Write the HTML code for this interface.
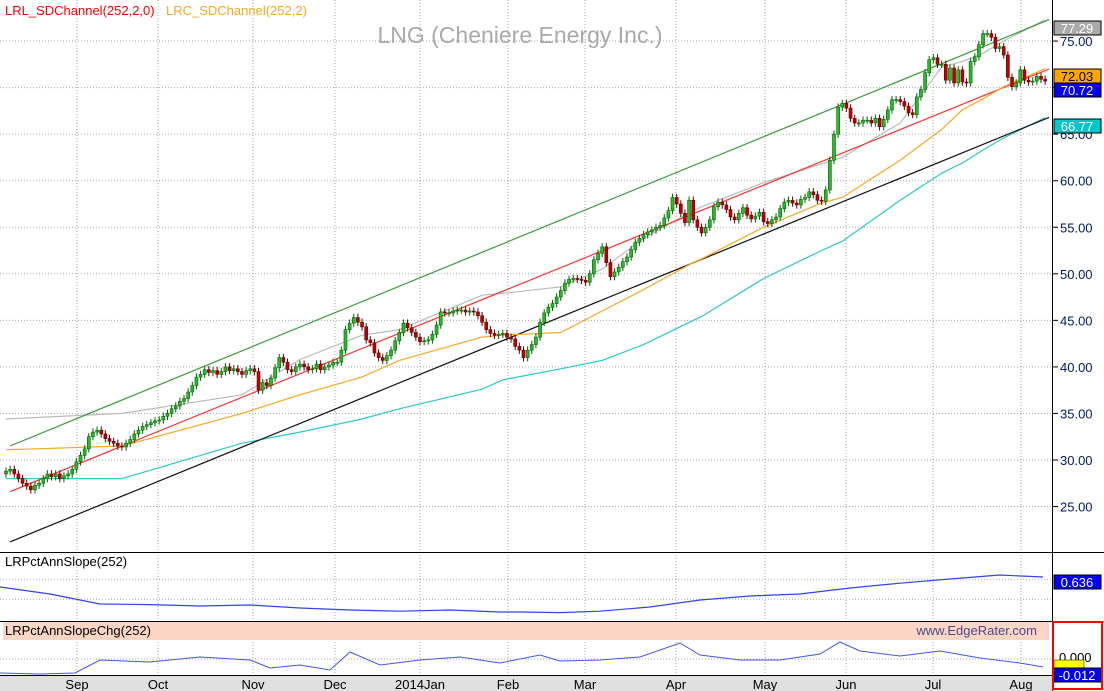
<!DOCTYPE html>
<html><head><meta charset="utf-8">
<style>
html,body{margin:0;padding:0;background:#fff;}
svg{display:block;font-family:"Liberation Sans",sans-serif;}
</style></head>
<body>
<svg id="chart" width="1104" height="691" viewBox="0 0 1104 691">
<rect x="0" y="0" width="1104" height="691" fill="#fff"/>
<g id="grid"></g>
<g id="overlays"></g>
<g id="candles"></g>
<text x="520" y="43" font-size="23" fill="#aaa" text-anchor="middle">LNG (Cheniere Energy Inc.)</text>
<text x="5" y="15" font-size="13" fill="#f00">LRL_SDChannel(252,2,0)</text>
<text x="166" y="15" font-size="13" fill="#f9a825">LRC_SDChannel(252,2)</text>
<line x1="0" y1="552.5" x2="1104" y2="552.5" stroke="#000"/>
<line x1="0" y1="621.5" x2="1052" y2="621.5" stroke="#000"/>
<text x="5" y="566" font-size="13" fill="#000">LRPctAnnSlope(252)</text>
<rect x="3" y="622" width="1046" height="18" fill="#fdd5c5"/>
<text x="5" y="635" font-size="13" fill="#000">LRPctAnnSlopeChg(252)</text>
<text x="1037" y="635" font-size="13" fill="#4a4a8a" text-anchor="end">www.EdgeRater.com</text>
<g id="lower"></g>
<rect x="0" y="675" width="1052" height="16" fill="#e0e0e0"/>
<line x1="0" y1="675.5" x2="1052" y2="675.5" stroke="#000"/>
<g id="xaxis"></g>
<line x1="1052.5" y1="0" x2="1052.5" y2="691" stroke="#000"/>
<g id="yaxis"></g>
<g id="tags"></g>
</svg>
<script>
const closes=[28.8,29.0,28.5,28.0,27.5,27.2,26.8,27.3,27.5,28.0,28.5,28.2,28.5,28.0,28.3,28.5,
29,29.8,30.5,31.2,32.5,33,33.2,32.8,32.3,32,31.8,31.5,31.4,31.8,32.2,32.8,33.2,33.6,33.8,34,34.2,
34.3,34.7,35,35.5,35.8,36.3,36.6,37.3,38,38.9,39.2,39.7,39.4,39.6,39.2,39.5,40,39.6,39.8,39.5,39.2,39.6,39.8,
39.5,37.5,38.3,38,38.8,39.9,41,40.5,39.7,39.5,40,40.3,40,39.7,39.8,40.3,39.7,40,40.2,40.5,
40.5,41.8,44,44.7,45.3,44.8,44.3,42.9,42.6,41.5,41,40.7,41.2,41.8,42.8,43.7,44.7,44.2,43.7,43.2,42.7,
42.8,42.9,43.5,44.5,45.9,45.8,45.8,46,46.1,46.1,45.9,46,45.9,45.5,44.8,44,43.6,43.4,43.5,43.6,43.2,
43,42.2,41.8,41,41.8,42.4,43.2,44.8,45.8,46.4,46.8,47.5,48.2,49,49.4,49.5,49.4,49.3,49.1,
50,51.5,52.2,52.9,51.2,49.7,50.2,50.7,51.3,51.8,52.6,53.4,53.8,54.2,54.5,54.7,55,55.2,56,56.8,58.2,
57.5,56.5,55.5,57.9,55.8,55,54.4,55,55.8,57.2,57.7,57.4,56.9,56.1,55.8,56.5,57.1,56.3,55.9,56.2,56.6,
55.6,55.4,55.8,56.1,57,57.7,57.9,57.6,57.4,58,58.2,58.8,58.5,57.9,57.8,59,62.2,65,67.9,68.3,
67.8,66.7,66.2,66.2,66.5,66.5,66.2,66.7,65.8,66.6,67.6,68.7,68.7,68.5,68,67.3,67.1,69,69.8,71.6,73,
73.2,72.5,72.5,70.8,72.1,70.5,71.9,70.6,70.5,72.8,73.3,74.6,75.8,75.8,75.4,74.2,74.4,73.5,71.1,70.1,70.5,71.9,
70.8,70.6,70.7,71.2,70.9,70.7];
const ovDays=[0,28,57,71,86,95,115,120,134,144,154,166,168,183,197,202,216,226,231,236,241,251];
const grayVals=[34.4,35.0,37.0,40.8,43.4,44,47.7,47.9,48.6,50.5,53.8,56.8,57.2,59.8,61.8,62.5,66.2,72.2,72.8,73.7,75,77.29];
const orangeVals=[31.1,31.5,35,37,38.9,40.7,43.2,43.4,43.7,46,48.3,51.2,51.6,55,57.6,58.2,62.2,65.5,67.6,68.8,70.1,72.03];
const cyanVals=[28.0,28.0,31.8,33,34.4,35.5,37.6,38.6,39.8,40.7,42.4,45,45.4,49.5,52.5,53.5,57.9,60.8,61.9,63.3,64.6,66.77];
const channelDays=[0,251];
const upperVals=[31.5,77.3];
const midVals=[26.6,72.0];
const lowerVals=[21.2,66.8];
const slopeX=[0,50,100,150,200,250,300,350,400,450,500,520,560,600,650,700,750,800,850,900,950,1000,1043];
const slopeVals=[0.611,0.576,0.526,0.523,0.516,0.521,0.506,0.496,0.49,0.496,0.486,0.486,0.483,0.49,0.511,0.546,0.566,0.576,0.606,0.63,0.651,0.671,0.661];
const chgX=[0,40,75,100,150,200,250,270,300,330,350,380,420,460,500,540,560,600,640,680,700,740,780,820,840,860,900,940,980,1020,1043];
const chgVals=[-14,-15,-14,-1,-3,2,-1,-9,-6,-11,7,-6,-1,2,-4,4,-2,-1,2,16,4,-1,-1,5,17,8,3,8,1,-4,-8];
const months=["Sep","Oct","Nov","Dec","2014Jan","Feb","Mar","Apr","May","Jun","Jul","Aug"];
const monthX=[77,158,253,335,420,508,585,676,765,846,933,1021];
const yTicks=[25,30,35,40,45,50,55,60,65,70,75];

const NS="http://www.w3.org/2000/svg";
function mk(tag,attrs,parent){const e=document.createElementNS(NS,tag);for(const k in attrs)e.setAttribute(k,attrs[k]);parent.appendChild(e);return e;}
const xDay=d=>6+d*4.14;
const yP=p=>460-(p-30)*9.31;
const ySlope=v=>582-(v-0.636)*200;
const yChg=v=>659-v;

const grid=document.getElementById('grid');
yTicks.forEach(t=>{const l=mk('line',{x1:0,x2:1052,y1:yP(t),y2:yP(t),stroke:'#aaa','stroke-dasharray':'1,2'},grid);

});
monthX.forEach(x=>{const l=mk('line',{x1:x,x2:x,y1:0,y2:675,stroke:'#aaa','stroke-dasharray':'1,2'},grid);

});
[ySlope(0.55),ySlope(0.65)].forEach(y=>{const l=mk('line',{x1:0,x2:1052,y1:y,y2:y,stroke:'#aaa','stroke-dasharray':'1,2'},grid);

});
{const l=mk('line',{x1:0,x2:1052,y1:yChg(0),y2:yChg(0),stroke:'#aaa','stroke-dasharray':'1,2'},grid);

}

const ov=document.getElementById('overlays');
function poly(days,vals,color,name,xf,yf){
  const pts=days.map((d,i)=>xf(d).toFixed(1)+','+yf(vals[i]).toFixed(1)).join(' ');
  const p=mk('polyline',{points:pts,fill:'none',stroke:color,'stroke-width':1.2},ov);
  
  
}
poly(ovDays,grayVals,'#bbb','gray-line',xDay,yP);
poly(ovDays,cyanVals,'#2cc9d0','cyan-line',xDay,yP);
poly(channelDays,lowerVals,'#111','lower-channel',d=>xDay(d)+4,yP);
poly(channelDays,upperVals,'#3a9a3a','upper-channel',d=>xDay(d)+4,yP);
poly(channelDays,midVals,'#f33','mid-regression',d=>xDay(d)+4,yP);
poly(ovDays,orangeVals,'#f9a825','orange-line',xDay,yP);

const cg=document.getElementById('candles');
closes.forEach((c,i)=>{
  const o=i===0?c-0.3:closes[i-1];
  const up=c>=o;
  const x=xDay(i);
  const hi=Math.max(o,c)+0.4, lo=Math.min(o,c)-0.4;
  const w=mk('line',{x1:x,x2:x,y1:yP(hi),y2:yP(lo),stroke:up?'#006400':'#600000'},cg);
  
  
  const top=yP(Math.max(o,c)),bot=yP(Math.min(o,c));
  const b=mk('rect',{x:x-1.5,y:top,width:3,height:Math.max(1,bot-top),fill:up?'#2db82d':'#c00000',stroke:up?'#006400':'#600000','stroke-width':0.6},cg);
  
  
});

const lower=document.getElementById('lower');
{const pts=slopeX.map((x,i)=>x+','+ySlope(slopeVals[i]).toFixed(1)).join(' ');
const p=mk('polyline',{points:pts,fill:'none',stroke:'#3344ee','stroke-width':1.2},lower);

}
{const pts=chgX.map((x,i)=>x+','+yChg(chgVals[i]).toFixed(1)).join(' ');
const p=mk('polyline',{points:pts,fill:'none',stroke:'#4455ee','stroke-width':1},lower);

}

const xa=document.getElementById('xaxis');
months.forEach((m,i)=>{const t=mk('text',{x:monthX[i],y:689,'font-size':13,'text-anchor':'middle',fill:'#000'},xa);t.textContent=m;

});

const ya=document.getElementById('yaxis');
yTicks.forEach(t=>{const y=yP(t);
const l=mk('line',{x1:1052,x2:1058,y1:y,y2:y,stroke:'#000'},ya);


const tx=mk('text',{x:1060,y:y+5,'font-size':13,fill:'#001a66'},ya);tx.textContent=t.toFixed(2);

});

const tg=document.getElementById('tags');
function tag(y,txt,bg,fg,name){const r=mk('rect',{x:1054,y:y,width:47,height:14,fill:bg,stroke:'#000','stroke-width':1},tg);


const t=mk('text',{x:1077,y:y+12,'font-size':13,'text-anchor':'middle',fill:fg},tg);t.textContent=txt;

}
tag(21,'77.29','#aaa','#fff','tag-gray');
tag(69,'72.03','#ffa500','#000','tag-orange');
tag(83,'70.72','#0000ee','#fff','tag-close');
tag(119,'66.77','#00c8c8','#fff','tag-cyan');
tag(575,'0.636','#0000ee','#fff','tag-slope');
{const t=mk('text',{x:1059,y:662,'font-size':13,fill:'#000'},tg);t.textContent='0.000';

}
{const r=mk('rect',{x:1054,y:660,width:30,height:8,fill:'#ff0',stroke:'#000','stroke-width':0.5},tg);

}
tag(668,'-0.012','#0000ee','#fff','tag-chg');
{const r=mk('rect',{x:1053,y:622,width:49,height:67,fill:'none',stroke:'#f00','stroke-width':2},tg);

}
</script>
</body></html>
